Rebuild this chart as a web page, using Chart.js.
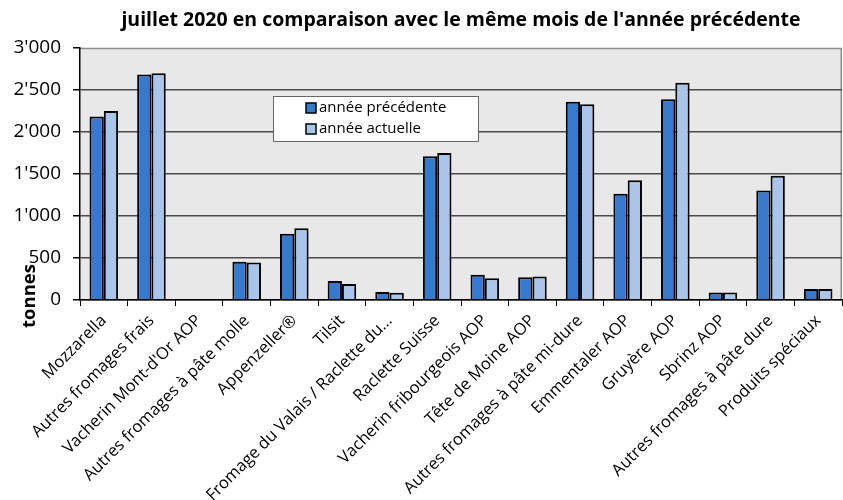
<!DOCTYPE html>
<html>
<head>
<meta charset="utf-8">
<script src="https://cdn.jsdelivr.net/npm/chart.js@4"></script>
<style>
  html, body { margin: 0; padding: 0; background: #fff; }
  #wrap { width: 843px; height: 500px; position: relative; }
</style>
</head>
<body>
<div id="wrap"><canvas id="cheese"></canvas></div>
<script>
// Data (tonnes)
const categories = [
    'Mozzarella', 'Autres fromages frais', "Vacherin Mont-d'Or AOP", 'Autres fromages à pâte molle',
    'Appenzeller®', 'Tilsit', 'Fromage du Valais / Raclette du…', 'Raclette Suisse',
    'Vacherin fribourgeois AOP', 'Tête de Moine AOP', 'Autres fromages à pâte mi-dure',
    'Emmentaler AOP', 'Gruyère AOP', 'Sbrinz AOP', 'Autres fromages à pâte dure', 'Produits spéciaux'
];
const previousYear = [2185, 2685, 0, 455, 790, 225, 95, 1710, 300, 270, 2360, 1265, 2390, 90, 1305, 130];
const currentYear  = [2250, 2700, 0, 445, 855, 190, 85, 1750, 260, 280, 2330, 1425, 2585, 90, 1480, 130];
const yTicks = [0, 500, 1000, 1500, 2000, 2500, 3000];

const TITLE = "juillet 2020 en comparaison avec le même mois de l'année précédente";
const FONT = "'Open Sans', sans-serif";

function swissFormat(v) {
    return String(v).replace(/\B(?=(\d{3})+(?!\d))/g, "'");
}

// plot background, title, y title and the boxed legend inside the plot
const decorations = {
    id: 'decorations',
    beforeDraw(chart) {
        const { ctx, chartArea: a } = chart;
        ctx.save();
        ctx.fillStyle = '#e8e8e8';
        ctx.fillRect(a.left, a.top, a.right - a.left, a.bottom - a.top);
        ctx.strokeStyle = '#8c8c8c';
        ctx.lineWidth = 1.5;
        ctx.beginPath();
        ctx.moveTo(a.left, a.top + 0.5);
        ctx.lineTo(a.right - 0.75, a.top + 0.5);
        ctx.lineTo(a.right - 0.75, a.bottom);
        ctx.stroke();
        ctx.restore();
    },
    afterDraw(chart) {
        const { ctx, chartArea: a } = chart;
        ctx.save();
        ctx.fillStyle = '#000';
        ctx.font = "bold 19.5px " + FONT;
        ctx.textAlign = 'center';
        ctx.textBaseline = 'middle';
        ctx.fillText(TITLE, (a.left + a.right) / 2, 20);

        // y axis title
        ctx.translate(30, 296);
        ctx.rotate(-Math.PI / 2);
        ctx.font = "bold 18.5px " + FONT;
        ctx.fillText('tonnes', 0, 0);
        ctx.restore();

        // legend
        const bx = a.left + 193, by = a.top + 48, bw = 205, bh = 45;
        ctx.save();
        ctx.fillStyle = '#fff';
        ctx.fillRect(bx, by, bw, bh);
        ctx.strokeStyle = '#666';
        ctx.lineWidth = 1;
        ctx.strokeRect(bx + 0.5, by + 0.5, bw, bh);
        ctx.font = "15px " + FONT;
        ctx.textBaseline = 'middle';
        chart.data.datasets.forEach((ds, i) => {
            const cy = by + 12 + i * 21;
            ctx.fillStyle = ds.backgroundColor;
            ctx.fillRect(bx + 33, cy - 5, 10, 10);
            ctx.strokeStyle = '#000';
            ctx.lineWidth = 1.5;
            ctx.strokeRect(bx + 33, cy - 5, 10, 10);
            ctx.fillStyle = '#000';
            ctx.fillText(ds.label, bx + 46, cy);
        });
        ctx.restore();
    }
};

new Chart(document.getElementById('cheese'), {
    type: 'bar',
    data: {
        labels: categories,
        datasets: [
            {
                label: 'année précédente',
                data: previousYear,
                backgroundColor: '#3579d0',
                borderColor: '#000',
                borderWidth: 2,
                categoryPercentage: 0.6,
                barPercentage: 1.0
            },
            {
                label: 'année actuelle',
                data: currentYear,
                backgroundColor: '#a9c6ea',
                borderColor: '#000',
                borderWidth: 2,
                categoryPercentage: 0.6,
                barPercentage: 1.0
            }
        ]
    },
    options: {
        responsive: true,
        maintainAspectRatio: false,
        animation: false,
        layout: { padding: { top: 48, right: 1, left: 0, bottom: 0 } },
        plugins: {
            legend: { display: false },
            tooltip: { enabled: false },
            title: { display: false }
        },
        scales: {
            x: {
                grid: {
                    offset: true,
                    drawOnChartArea: false,
                    drawTicks: true,
                    tickLength: 6,
                    color: '#000'
                },
                border: { color: '#000', width: 1.5 },
                ticks: {
                    autoSkip: false,
                    minRotation: 45,
                    maxRotation: 45,
                    color: '#000',
                    padding: 5,
                    font: { family: FONT, size: 16.5 }
                },
                afterFit(scale) { scale.height = 200; }
            },
            y: {
                min: 0,
                max: 3000,
                afterBuildTicks(scale) { scale.ticks = yTicks.map(v => ({ value: v })); },
                grid: {
                    color: ctx => ctx.tick && ctx.tick.value === 3000 ? 'rgba(0,0,0,0)' : '#4a4a4a',
                    lineWidth: 1.5,
                    tickLength: 7,
                    tickColor: '#000'
                },
                border: { color: '#000', width: 1.5 },
                ticks: {
                    color: '#000',
                    padding: 12,
                    font: { family: FONT, size: 19 },
                    callback: v => swissFormat(v)
                },
                afterFit(scale) { scale.width = 80; }
            }
        }
    },
    plugins: [decorations]
});
</script>
</body>
</html>
